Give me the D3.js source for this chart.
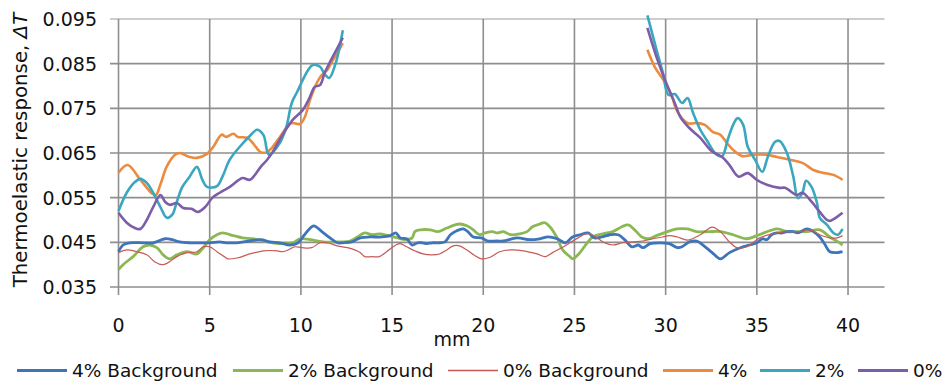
<!DOCTYPE html>
<html>
<head>
<meta charset="utf-8">
<script src="https://cdn.jsdelivr.net/npm/d3@7"></script>
<style>
  body { margin: 0; background: #fff; }
  #chart { width: 951px; height: 382px; }
</style>
</head>
<body>
<div id="chart"></div>
<script>
// values: [mm, deltaT]
var bg4 = [[0,0.0429],[0.25,0.0444],[0.6,0.0449],[1.35,0.0449],[1.9,0.0449],[2.55,0.0458],[2.95,0.0456],[3.35,0.0451],
  [3.9,0.0449],[4.45,0.0449],[5.0,0.0449],[5.55,0.0451],[5.9,0.0449],[6.5,0.0449],[7.2,0.0453],[7.8,0.0456],[8.3,0.0451],
  [8.85,0.0449],[9.4,0.0444],[9.85,0.0449],[10.2,0.0467],[10.7,0.0487],[11.15,0.0474],[11.6,0.0460],[12.0,0.0449],
  [12.3,0.0449],[12.8,0.0451],[13.25,0.0460],[13.8,0.0462],[14.45,0.0462],[14.9,0.0465],[15.2,0.0471],[15.45,0.0460],
  [15.8,0.0458],[16.1,0.0444],[16.4,0.0449],[16.65,0.0449],[16.9,0.0447],[17.2,0.0449],[17.5,0.0449],[17.9,0.0451],
  [18.2,0.0467],[18.55,0.0476],[18.9,0.0480],[19.15,0.0474],[19.45,0.0462],[19.9,0.0460],[20.25,0.0453],[20.75,0.0453],
  [21.1,0.0453],[21.85,0.0460],[22.55,0.0456],[23.1,0.0458],[23.55,0.0462],[24.05,0.0458],[24.5,0.0449],[24.9,0.0462],
  [25.3,0.0467],[25.75,0.0471],[26.1,0.0460],[26.5,0.0462],[26.95,0.0467],[27.4,0.0467],[27.75,0.0456],[28.15,0.0440],
  [28.5,0.0444],[28.75,0.0438],[29.15,0.0447],[29.7,0.0449],[30.2,0.0447],[30.65,0.0438],[30.9,0.0440],[31.3,0.0451],
  [31.7,0.0453],[32.05,0.0444],[32.55,0.0427],[33.0,0.0413],[33.5,0.0427],[34.1,0.0438],[34.6,0.0444],[35.0,0.0449],
  [35.3,0.0458],[35.55,0.0456],[35.8,0.0467],[36.1,0.0471],[36.4,0.0471],[36.65,0.0474],[37.0,0.0474],[37.25,0.0471],
  [37.75,0.0480],[38.1,0.0474],[38.45,0.0462],[38.75,0.0444],[39.0,0.0429],[39.4,0.0427],[39.7,0.0429]];

var bg2 = [[0,0.0389],[0.25,0.0400],[0.8,0.0418],[1.35,0.0440],[1.7,0.0444],[2.1,0.0438],[2.45,0.0422],[2.8,0.0413],
  [3.2,0.0422],[3.75,0.0429],[4.3,0.0424],[4.65,0.0438],[5.0,0.0456],[5.4,0.0467],[5.7,0.0471],[6.3,0.0465],[6.8,0.0460],
  [7.35,0.0458],[7.95,0.0453],[8.45,0.0449],[9.0,0.0447],[9.55,0.0449],[9.95,0.0458],[10.5,0.0456],[11.2,0.0451],
  [12.0,0.0451],[12.7,0.0453],[13.1,0.0462],[13.5,0.0471],[13.9,0.0467],[14.3,0.0469],[14.8,0.0465],[15.3,0.0460],
  [15.7,0.0456],[16.1,0.0460],[16.25,0.0474],[16.55,0.0478],[17.1,0.0478],[17.5,0.0474],[18.0,0.0482],[18.45,0.0489],
  [18.7,0.0491],[19.1,0.0487],[19.45,0.0478],[19.8,0.0467],[20.1,0.0471],[20.5,0.0474],[20.75,0.0471],[21.1,0.0474],
  [21.5,0.0467],[22.0,0.0469],[22.4,0.0474],[22.7,0.0485],[23.1,0.0491],[23.35,0.0494],[23.65,0.0485],[24.05,0.0460],
  [24.35,0.0433],[24.75,0.0418],[24.9,0.0413],[25.3,0.0427],[25.7,0.0449],[26.0,0.0462],[26.55,0.0469],[27.1,0.0474],
  [27.6,0.0485],[27.95,0.0489],[28.3,0.0478],[28.7,0.0462],[29.05,0.0458],[29.5,0.0465],[30.1,0.0474],[30.6,0.0480],
  [31.2,0.0480],[31.7,0.0474],[32.4,0.0474],[33.0,0.0474],[33.7,0.0467],[34.45,0.0458],[35.0,0.0465],[35.7,0.0476],
  [36.15,0.0480],[36.65,0.0474],[37.2,0.0474],[37.75,0.0474],[38.45,0.0478],[39.0,0.0462],[39.45,0.0451],[39.7,0.0444]];

var bg0 = [[0,0.0427],[0.45,0.0433],[1.0,0.0429],[1.55,0.0422],[2.0,0.0406],[2.4,0.0400],[2.7,0.0404],[3.2,0.0418],
  [3.75,0.0427],[4.3,0.0429],[4.65,0.0440],[5.0,0.0440],[5.4,0.0429],[5.8,0.0418],[6.0,0.0413],[6.5,0.0415],[7.2,0.0424],
  [7.95,0.0431],[8.7,0.0431],[9.0,0.0429],[9.4,0.0435],[9.65,0.0440],[10.05,0.0438],[10.6,0.0438],[11.05,0.0449],
  [11.45,0.0449],[12.0,0.0442],[12.55,0.0438],[12.95,0.0433],[13.25,0.0427],[13.5,0.0418],[13.9,0.0418],[14.3,0.0418],
  [14.7,0.0429],[15.2,0.0444],[15.45,0.0447],[15.8,0.0440],[16.25,0.0431],[16.7,0.0424],[17.2,0.0422],[17.6,0.0424],
  [18.0,0.0433],[18.35,0.0442],[18.7,0.0442],[19.1,0.0433],[19.55,0.0420],[19.9,0.0413],[20.35,0.0416],[20.9,0.0429],
  [21.5,0.0433],[22.2,0.0431],[22.95,0.0424],[23.4,0.0418],[23.8,0.0427],[24.3,0.0438],[24.75,0.0449],[25.2,0.0460],
  [25.6,0.0469],[25.85,0.0469],[26.25,0.0460],[26.65,0.0449],[27.1,0.0444],[27.65,0.0449],[28.2,0.0451],[28.75,0.0453],
  [29.3,0.0458],[29.85,0.0462],[30.2,0.0465],[30.65,0.0462],[31.2,0.0455],[31.9,0.0467],[32.55,0.0484],[33.0,0.0474],
  [33.5,0.0451],[33.9,0.0438],[34.45,0.0440],[35.15,0.0460],[35.85,0.0469],[36.65,0.0474],[37.35,0.0474],[37.9,0.0478],
  [38.45,0.0467],[39.0,0.0460],[39.4,0.0460],[39.7,0.0465]];

var p4Left = [[0,0.0606],[0.5,0.0623],[1.2,0.0590],[1.85,0.0559],[2.05,0.0556],[2.3,0.0580],[2.65,0.0620],[3.1,0.0646],
  [3.35,0.0650],[3.9,0.0641],[4.3,0.0639],[4.85,0.0648],[5.2,0.0664],[5.65,0.0691],[5.9,0.0686],[6.3,0.0693],[6.55,0.0686],
  [7.05,0.0684],[7.35,0.0673],[7.8,0.0652],[8.15,0.0652],[8.4,0.0661],[8.85,0.0686],[9.2,0.0706],[9.5,0.0717],
  [9.95,0.0715],[10.2,0.0729],[10.5,0.0769],[10.9,0.0809],[11.15,0.0825],[11.45,0.0836],[11.7,0.0854],[12.0,0.0874],
  [12.3,0.0896]];
var p4Right = [[29.0,0.0881],[29.4,0.0843],[29.95,0.0809],[30.35,0.0776],[30.6,0.0746],[31.2,0.0717],[31.75,0.0717],
  [32.15,0.0713],[32.6,0.0697],[33.0,0.0691],[33.35,0.0673],[33.7,0.0657],[34.2,0.0643],[34.8,0.0646],[35.55,0.0646],
  [36.1,0.0641],[36.8,0.0635],[37.5,0.0628],[38.1,0.0612],[38.6,0.0606],[39.2,0.0601],[39.7,0.0590]];

var p2Left = [[0,0.0520],[0.45,0.0561],[0.9,0.0585],[1.2,0.0592],[1.55,0.0583],[1.9,0.0561],[2.3,0.0529],[2.65,0.0505],
  [2.95,0.0512],[3.2,0.0541],[3.5,0.0574],[3.9,0.0597],[4.3,0.0619],[4.6,0.0590],[4.85,0.0574],[5.4,0.0576],[5.7,0.0597],
  [6.1,0.0635],[6.65,0.0664],[7.2,0.0688],[7.6,0.0702],[7.95,0.0690],[8.25,0.0646],[8.85,0.0673],[9.2,0.0708],
  [9.5,0.0762],[9.8,0.0787],[10.05,0.0809],[10.4,0.0836],[10.65,0.0847],[11.05,0.0843],[11.3,0.0827],[11.55,0.0818],
  [11.9,0.0850],[12.3,0.0925]];
var p2Right = [[29.0,0.0958],[29.5,0.0881],[29.85,0.0829],[30.15,0.0780],[30.5,0.0782],[30.9,0.0762],[31.2,0.0773],
  [31.5,0.0740],[31.9,0.0702],[32.25,0.0679],[32.8,0.0646],[33.1,0.0643],[33.4,0.0679],[33.7,0.0713],[33.95,0.0728],
  [34.25,0.0713],[34.5,0.0664],[34.9,0.0635],[35.3,0.0608],[35.6,0.0641],[36.0,0.0675],[36.25,0.0677],[36.65,0.0650],
  [37.0,0.0597],[37.25,0.0549],[37.5,0.0561],[37.7,0.0588],[38.0,0.0574],[38.3,0.0538],[38.45,0.0505],[38.85,0.0489],
  [39.2,0.0471],[39.45,0.0467],[39.7,0.0480]];

var p0Left = [[0,0.0516],[0.45,0.0494],[0.9,0.0482],[1.2,0.0480],[1.55,0.0500],[1.9,0.0529],[2.3,0.0556],[2.55,0.0541],
  [2.8,0.0534],[3.2,0.0538],[3.55,0.0527],[4.0,0.0525],[4.35,0.0518],[4.75,0.0529],[5.15,0.0550],[5.55,0.0561],
  [6.1,0.0574],[6.8,0.0594],[7.2,0.0590],[7.8,0.0619],[8.15,0.0635],[8.45,0.0652],[9.0,0.0691],[9.55,0.0724],
  [10.1,0.0746],[10.5,0.0776],[10.75,0.0798],[11.05,0.0802],[11.3,0.0829],[11.6,0.0854],[12.0,0.0885],[12.3,0.0908]];
var p0Right = [[29.0,0.0930],[29.5,0.0865],[30.05,0.0805],[30.5,0.0762],[30.8,0.0731],[31.3,0.0706],[31.9,0.0684],
  [32.5,0.0655],[33.1,0.0641],[33.5,0.0623],[34.0,0.0597],[34.5,0.0605],[35.0,0.0590],[35.55,0.0579],[36.25,0.0572],
  [36.55,0.0572],[37.2,0.0556],[37.5,0.0561],[38.0,0.0541],[38.45,0.0518],[38.85,0.0500],[39.0,0.0498],[39.4,0.0507],
  [39.7,0.0516]];

var xTicks = [0,5,10,15,20,25,30,35,40];
var yTicks = [0.035,0.045,0.055,0.065,0.075,0.085,0.095];
var seriesNames = ["4% Background","2% Background","0% Background","4%","2%","0%"];
var seriesColors = ["#3d74ba","#8cb853","#c55a57","#ec8a3f","#3aa7bf","#7c5ea8"];

var width = 951, height = 382;
var svg = d3.select("#chart").append("svg")
    .attr("width",width)
    .attr("height",height)
    .attr("font-family","DejaVu Sans, sans-serif");

var x = d3.scaleLinear().domain([0,42]).range([118.5,884.5]);
var y = d3.scaleLinear().domain([0.035,0.095]).range([287,19]);

// grid
var grid = svg.append("g").attr("stroke","#8e8e8e").attr("stroke-width",1.6);
grid.selectAll("line.h").data(yTicks).enter().append("line")
    .attr("x1",110).attr("x2",x(42))
    .attr("y1",d=>y(d)).attr("y2",d=>y(d))
    .attr("stroke",d=>d===0.095?"#bdbdbd":null);
grid.selectAll("line.v").data(xTicks).enter().append("line")
    .attr("x1",d=>x(d)).attr("x2",d=>x(d))
    .attr("y1",y(0.095)).attr("y2",295);

// tick labels
svg.append("g").selectAll("text").data(yTicks).enter().append("text")
    .attr("x",97).attr("y",d=>y(d)).attr("dy","0.36em")
    .attr("text-anchor","end").attr("font-size",19).attr("fill","#111")
    .text(d=>d3.format(".3f")(d));
svg.append("g").selectAll("text").data(xTicks).enter().append("text")
    .attr("x",d=>x(d)).attr("y",332)
    .attr("text-anchor","middle").attr("font-size",19).attr("fill","#111")
    .text(d=>d);

svg.append("text").attr("x",452).attr("y",346).attr("text-anchor","middle")
    .attr("font-size",19).attr("fill","#111").text("mm");

var yt = svg.append("text")
    .attr("transform","translate(27,150) rotate(-90)")
    .attr("text-anchor","middle").attr("font-size",19.8).attr("fill","#111");
yt.append("tspan").text("Thermoelastic response, ");
yt.append("tspan").attr("font-style","italic").text("ΔT");

// series
var line = d3.line()
    .x(d=>x(d[0])).y(d=>y(d[1]))
    .curve(d3.curveCatmullRom.alpha(0.5));

var segments = [
    {data:bg2,idx:1,w:2.8},{data:bg4,idx:0,w:2.8},{data:bg0,idx:2,w:1.2},
    {data:p4Left,idx:3,w:2.6},{data:p4Right,idx:3,w:2.6},
    {data:p2Left,idx:4,w:2.6},{data:p2Right,idx:4,w:2.6},
    {data:p0Left,idx:5,w:2.6},{data:p0Right,idx:5,w:2.6}
];
svg.append("g").selectAll("path").data(segments).enter().append("path")
    .attr("fill","none")
    .attr("stroke",d=>seriesColors[d.idx])
    .attr("stroke-width",d=>d.w)
    .attr("stroke-linejoin","round")
    .attr("d",d=>line(d.data));

// legend
var legendX = [17,233,448,663,760,858];
var leg = svg.append("g").selectAll("g").data(seriesNames).enter().append("g")
    .attr("transform",(d,i)=>"translate("+legendX[i]+",370.5)");
leg.append("line").attr("x1",0).attr("x2",50)
    .attr("stroke",(d,i)=>seriesColors[i])
    .attr("stroke-width",(d,i)=>i===2?1.4:2.8);
leg.append("text").attr("x",55).attr("y",6.5).attr("font-size",18.5).attr("fill","#111")
    .text(d=>d);
</script>
</body>
</html>
